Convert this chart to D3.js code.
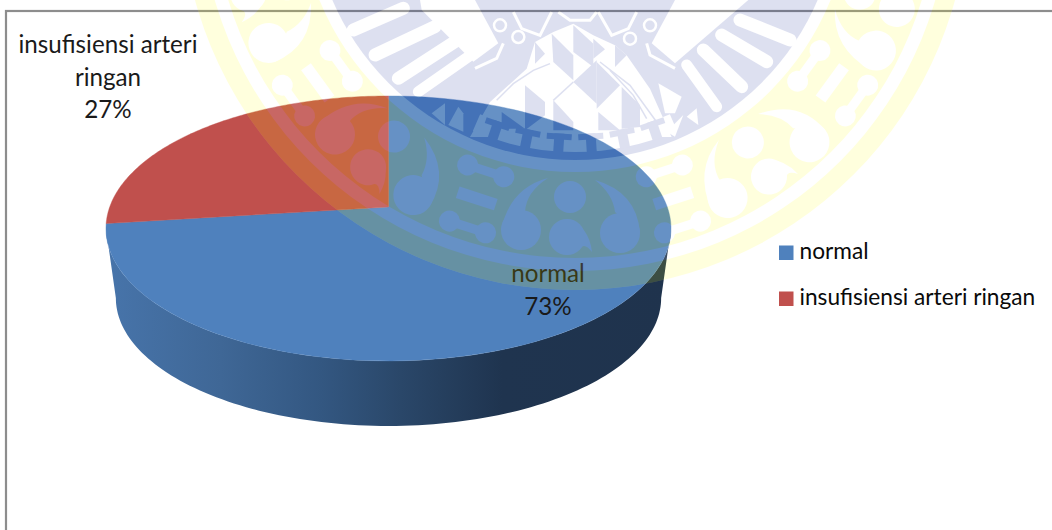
<!DOCTYPE html>
<html><head><meta charset="utf-8">
<script src="https://cdn.jsdelivr.net/npm/d3@7/dist/d3.min.js"></script>
<style>html,body{margin:0;padding:0;background:#fff}svg{display:block}text{font-family:Lato,"Open Sans",sans-serif}</style>
</head><body><svg id="c" width="1052" height="530"></svg>
<script>
// --- data ---
const categories = ["normal", "insufisiensi arteri ringan"];
const values = [73, 27];
const colors = ["#4f81bd", "#c0504d"];
const labelLines = [["normal", "73%"], ["insufisiensi arteri", "ringan", "27%"]];

// --- geometry of the tilted pie ---
const W = 1052, H = 530;
const svg = d3.select("#c");
const cx = 388.5, cy = 207, k = -0.162, A = 129, C = 278.8, depth = 70.4, baseScale = 0.965;
function project(a, s = 1, dy = 0) {
  const v = -Math.cos(a), u = Math.sin(a), d = 1 + k * v;
  return [cx + s * C * u / d, cy + dy + s * A * v / d];
}
const pie = d3.pie().sort(null).value(d => d)(values);
const line = d3.line();
const sample = (a0, a1, s, dy) => d3.range(0, 121).map(i => project(a0 + (a1 - a0) * i / 120, s, dy));

// --- frame ---
svg.append("rect").attr("x", 6).attr("y", 11).attr("width", W + 50).attr("height", H + 50)
  .attr("fill", "#fff").attr("stroke", "#8d8d8d").attr("stroke-width", 2.2);

// --- side wall gradient ---
const defs = svg.append("defs");
const grad = defs.append("linearGradient").attr("id", "side").attr("gradientUnits", "userSpaceOnUse")
  .attr("x1", 108).attr("x2", 671).attr("y1", 0).attr("y2", 0);
[[0, "#4774aa"], [0.2, "#3f6796"], [0.38, "#335781"], [0.52, "#2a4769"], [0.7, "#1f344f"], [1, "#1f334d"]]
  .forEach(([o, c]) => grad.append("stop").attr("offset", o).attr("stop-color", c));

const startA = Math.PI / 2 + Math.asin(0.162);
const endA = 2 * Math.PI - startA;
const topRim = sample(startA, Math.min(endA, pie[0].endAngle));
const botRim = sample(startA, Math.min(endA, pie[0].endAngle), baseScale, depth).reverse();
svg.append("path").attr("d", line(topRim.concat(botRim)) + "Z").attr("fill", "url(#side)");

// --- top face ---
svg.selectAll("path.slice").data(pie).join("path").attr("class", "slice")
  .attr("d", d => line([project(0, 0)].concat(sample(d.startAngle, d.endAngle))) + "Z")
  .attr("fill", (d, i) => colors[i]).attr("stroke", (d, i) => colors[i]).attr("stroke-width", 0.4);

// --- data labels ---
const labelPos = [{ x: 548, y: 282 }, { x: 108, y: 53 }];
labelLines.forEach((ls, i) => ls.forEach((t, j) => {
  svg.append("text").attr("x", labelPos[i].x).attr("y", labelPos[i].y + j * 32.5)
    .attr("text-anchor", "middle").attr("font-size", 24.2).attr("fill", "#1a1a1a").text(t);
}));

// --- legend ---
const legendY = d3.scalePoint().domain(categories).range([252.5, 298.5]);
categories.forEach((c, i) => {
  svg.append("rect").attr("x", 779).attr("y", legendY(c) - 7).attr("width", 14.5).attr("height", 14.5).attr("fill", colors[i]);
  svg.append("text").attr("x", 799.5).attr("y", legendY(c) + 6).attr("font-size", 22.7).attr("fill", "#0a0a0a").text(c);
});

// --- watermark drawn over the chart ---
const wm = svg.append("g").attr("opacity", 0.13);
const YEL = "#ffff00", BLU = "#001693", WHT = "#ffffff";
const mx = 575, my = -104;
const ring = d3.arc();
const disc = wm.append("g").attr("transform", `translate(${mx},${my})`);
disc.append("circle").attr("r", 394).attr("fill", WHT);
[[375, 394], [276, 362]].forEach(([r0, r1]) => disc.append("path")
  .attr("d", ring({ innerRadius: r0, outerRadius: r1, startAngle: 0, endAngle: 2 * Math.PI })).attr("fill", YEL));
disc.append("circle").attr("r", 264).attr("fill", BLU);

// band motifs
[-72, -36, 0, 36, 72].forEach(a => {
  const g = disc.append("g").attr("transform", `rotate(${a})`).attr("fill", WHT);
  g.append("circle").attr("cx", -5).attr("cy", 301).attr("r", 16);
  g.append("circle").attr("cx", -8).attr("cy", 341).attr("r", 18);
  g.append("path").attr("d", "M-8,323Q14,330 17,356Q9,345 4,354Z");
  g.append("circle").attr("cx", -54).attr("cy", 334).attr("r", 20);
  g.append("path").attr("d", "M-27,282Q-65,292 -74,334L-50,316Q-49,296 -27,282Z");
  g.append("circle").attr("cx", 45).attr("cy", 337).attr("r", 20);
  g.append("path").attr("d", "M20,284Q62,296 65,337L40,316Q38,298 20,284Z");
});
[-90, -54, -18, 18, 54, 90].forEach(a => {
  const g = disc.append("g").attr("transform", `rotate(${a})`).attr("fill", WHT);
  g.append("rect").attr("x", -20).attr("y", 312).attr("width", 40).attr("height", 12);
  [289, 348].forEach(r => {
    g.append("circle").attr("cx", -19).attr("cy", r).attr("r", 10.5);
    g.append("circle").attr("cx", 19).attr("cy", r).attr("r", 10.5);
    g.append("rect").attr("x", -19).attr("y", r - 4.5).attr("width", 38).attr("height", 9);
  });
});

const z5 = p => [360 + p[0] / 3, p[1] / 3];
const z6 = p => [575 + p[0] / 3, p[1] / 3];
const z7 = p => [490 + p[0] / 3, 12 + p[1] / 3];
const poly = (pts, f, col) => wm.append("polygon").attr("points", pts.map(f).join(" ")).attr("fill", col);
const stroke = (pts, f, w, col) => wm.append("polyline").attr("points", pts.map(f).join(" "))
  .attr("fill", "none").attr("stroke", col).attr("stroke-width", w);

// batik field: white with blue triangles
poly([[-60, 375], [0, 270], [110, 170], [135, 90], [190, 60], [250, 35], [310, 70], [375, 100], [410, 130], [480, 230], [545, 375]], z7, WHT);
[[[105, 220], [165, 270], [165, 310], [105, 355]], [[35, 300], [105, 350], [35, 350]],
 [[185, 65], [250, 130], [250, 205], [190, 150]], [[250, 40], [310, 95], [310, 165], [250, 120]],
 [[135, 90], [165, 125], [135, 155]], [[310, 80], [345, 112], [310, 140]],
 [[250, 210], [320, 145], [320, 275]], [[320, 150], [390, 220], [320, 290]],
 [[395, 225], [450, 280], [450, 345], [395, 350]], [[325, 300], [390, 355], [325, 355]],
 [[375, 100], [410, 130], [375, 165]], [[190, 265], [250, 330], [250, 355], [190, 355]]]
  .forEach(t => poly(t, z7, BLU));
stroke([[190, 265], [250, 210]], z7, 1.5, BLU);
stroke([[20, 265], [70, 215], [130, 175], [180, 155]], z7, 1.5, BLU);
stroke([[330, 150], [420, 220], [500, 330]], z7, 1.5, BLU);
stroke([[360, 175], [430, 250], [470, 320]], z7, 1.5, BLU);

// T-shaped teeth band
disc.append("path").attr("d", ring({ innerRadius: 238, outerRadius: 256, startAngle: Math.PI - 0.41, endAngle: Math.PI + 0.41 })).attr("fill", WHT);
wm.append("g").attr("transform", `translate(${mx},${my})`).call(g => {
  [-18.75, -11.25, -3.75, 3.75, 11.25, 18.75].forEach(a => {
    const t = g.append("g").attr("transform", `rotate(${a})`).attr("fill", BLU);
    t.append("rect").attr("x", -12.5).attr("y", 238).attr("width", 25).attr("height", 6);
    t.append("rect").attr("x", -5).attr("y", 238).attr("width", 10).attr("height", 19);
  });
});
wm.selectAll("polygon, polyline").raise();
wm.selectAll("g").filter(function () { return this.parentNode === wm.node() && this.firstChild && this.firstChild.nodeName === "g"; }).raise();

// shoulders
poly([[300, 0], [230, 130], [300, 190], [520, 0]], z6, WHT);
poly([[185, 30], [340, 185], [415, 130], [345, 0], [180, 0]], z5, WHT);
// collars
stroke([[215, 130], [225, 165], [300, 205]], z6, 3, WHT);
stroke([[430, 130], [410, 175], [345, 205]], z5, 3, WHT);

// feathers
const feather = (a, b, f, w) => {
  const p = f(a), q = f(b);
  wm.append("line").attr("x1", p[0]).attr("y1", p[1]).attr("x2", q[0]).attr("y2", q[1])
    .attr("stroke", WHT).attr("stroke-width", w).attr("stroke-linecap", "round");
};
[[[335, 195], [425, 320], 11], [[385, 150], [500, 260], 13], [[440, 105], [575, 185], 13], [[495, 60], [645, 120], 13]]
  .forEach(d => feather(d[0], d[1], z6, d[2]));
[[[325, 170], [175, 275], 11], [[285, 125], [115, 235], 13], [[225, 80], [45, 165], 13], [[130, 25], [-20, 90], 13]]
  .forEach(d => feather(d[0], d[1], z5, d[2]));

// flame and small white pieces at the batik edges
[[[275, 395], [325, 345], [300, 410]], [[335, 350], [365, 325], [370, 375]], [[250, 250], [320, 290], [300, 340], [270, 340]]]
  .forEach(t => poly(t, z6, WHT));
[[[215, 340], [255, 310], [255, 375]], [[295, 320], [310, 340], [310, 395], [265, 375]]]
  .forEach(t => poly(t, z5, WHT));

// scrolls and linework at the top centre
[[z7([30, 40]), 6], [z7([85, 75]), 6], [z7([480, 40]), 6], [z7([420, 80]), 6]].forEach(([p, r]) =>
  wm.append("circle").attr("cx", p[0]).attr("cy", p[1]).attr("r", r).attr("fill", "none").attr("stroke", WHT).attr("stroke-width", 2.5));
stroke([[70, 0], [95, 50], [150, 70], [185, 0]], z7, 3, WHT);
stroke([[440, 0], [415, 50], [365, 70], [325, 0]], z7, 3, WHT);
stroke([[205, 0], [240, 25], [300, 25], [320, 0]], z7, 3, WHT);
</script></body></html>
